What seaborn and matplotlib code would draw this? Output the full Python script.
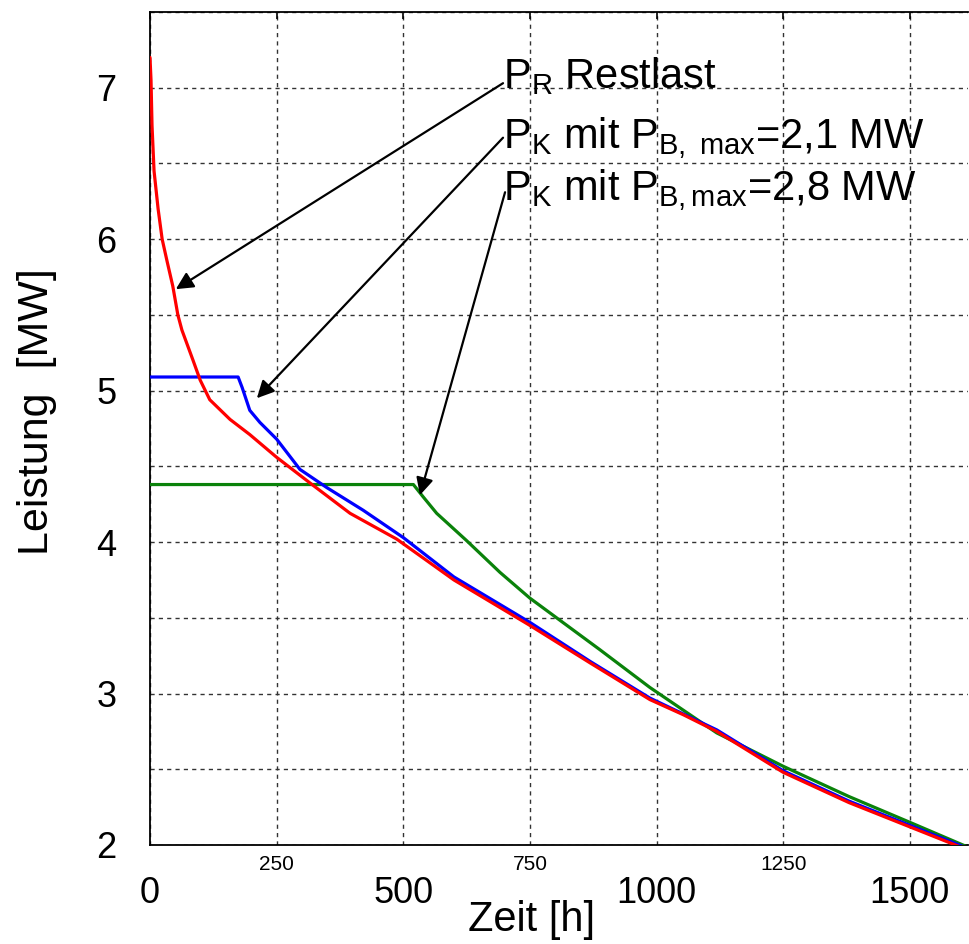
# Load duration curves: residual load vs. boiler power with storage

import numpy as np
import pandas as pd
import matplotlib
matplotlib.use("Agg")
import matplotlib.pyplot as plt
import seaborn as sns
from matplotlib.ticker import FixedLocator, NullFormatter

# Section 1 - Data

restlast_x = [0, 2, 4, 8, 16, 24, 34, 45, 55, 63, 85, 99, 118, 158, 197, 250,
              316, 395, 487, 600, 750, 870, 987, 1053, 1119, 1250, 1380, 1500, 1605]
restlast_y = [7.20, 7.05, 6.75, 6.45, 6.20, 6.00, 5.85, 5.69, 5.50, 5.40, 5.20, 5.07,
              4.94, 4.81, 4.71, 4.56, 4.39, 4.19, 4.02, 3.75, 3.45, 3.20, 2.96, 2.86,
              2.75, 2.48, 2.28, 2.12, 1.98]

pk21_x = [0, 174, 182, 197, 217, 250, 296, 349, 421, 500, 600, 750, 870, 987,
          1119, 1250, 1380, 1500, 1605]
pk21_y = [5.09, 5.09, 5.02, 4.87, 4.79, 4.68, 4.48, 4.36, 4.21, 4.03, 3.77, 3.47,
          3.21, 2.97, 2.76, 2.49, 2.29, 2.13, 1.99]

pk28_x = [0, 520, 539, 566, 625, 691, 750, 888, 987, 1119, 1250, 1380, 1500, 1612]
pk28_y = [4.38, 4.38, 4.30, 4.19, 4.01, 3.80, 3.63, 3.29, 3.04, 2.74, 2.52, 2.32,
          2.15, 1.99]

major_x = [0, 500, 1000, 1500]
minor_x = [250, 750, 1250]
major_y = [2, 3, 4, 5, 6, 7]
minor_y = [2.5, 3.5, 4.5, 5.5, 6.5, 7.5]

labels = [r"$\mathrm{P_R}$ Restlast",
          r"$\mathrm{P_K}$ mit $\mathrm{P_{B,\ max}}$=2,1 MW",
          r"$\mathrm{P_K}$ mit $\mathrm{P_{B,max}}$=2,8 MW"]
label_pos = [(697, 7.0), (697, 6.60), (697, 6.26)]
arrow_start = [(697, 7.03), (697, 6.67), (701, 6.31)]
arrow_tip = [(51, 5.67), (211, 4.95), (533, 4.31)]

# Section 2 - Style

sns.set_theme(style="white")
plt.rcParams["font.family"] = ["Liberation Sans", "DejaVu Sans"]
plt.rcParams["mathtext.fontset"] = "custom"
plt.rcParams["mathtext.rm"] = "Liberation Sans"
plt.rcParams["mathtext.it"] = "Liberation Sans:italic"
plt.rcParams["mathtext.bf"] = "Liberation Sans:bold"
plt.rcParams["text.color"] = "black"
plt.rcParams["axes.labelcolor"] = "black"
plt.rcParams["xtick.color"] = "black"
plt.rcParams["ytick.color"] = "black"

fig = plt.figure(figsize=(9.7, 9.44), dpi=100)
ax = fig.add_axes([150 / 970, 99 / 944, 818 / 970, 833 / 944])

# Section 3 - Curves

sns.lineplot(x=restlast_x, y=restlast_y, color="#ff0000", lw=2.3, ax=ax, zorder=5)
sns.lineplot(x=pk21_x, y=pk21_y, color="#0000ff", lw=2.3, ax=ax, zorder=4)
sns.lineplot(x=pk28_x, y=pk28_y, color="#0a820a", lw=2.3, ax=ax, zorder=3)

ax.set_xlim(0, 1615)
ax.set_ylim(2, 7.5)

# Section 4 - Axes, ticks, grid

ax.xaxis.set_major_locator(FixedLocator(major_x))
ax.xaxis.set_minor_locator(FixedLocator(minor_x))
ax.yaxis.set_major_locator(FixedLocator(major_y))
ax.yaxis.set_minor_locator(FixedLocator(minor_y))
ax.set_xticklabels([str(v) for v in major_x])
ax.set_xticklabels([str(v) for v in minor_x], minor=True)
ax.yaxis.set_minor_formatter(NullFormatter())

ax.tick_params(axis="x", which="major", direction="in", length=5, width=1.2,
               labelsize=26, pad=22, top=True, color="black", labelcolor="black")
ax.tick_params(axis="x", which="minor", direction="in", length=5, width=1.2,
               labelsize=15, pad=7, top=True, color="black", labelcolor="black")
ax.tick_params(axis="y", which="major", direction="in", length=5, width=1.2,
               labelsize=26, pad=24, right=False, color="black", labelcolor="black")
ax.tick_params(axis="y", which="minor", direction="inout", length=6, width=1.2,
               right=False, color="black")

ax.grid(which="both", linestyle=(0, (3, 3)), color="#333333", linewidth=1.0)

for side in ["left", "bottom", "top"]:
    ax.spines[side].set_color("black")
    ax.spines[side].set_linewidth(1.3)
ax.spines["right"].set_visible(False)

ax.set_xlabel("Zeit [h]", fontsize=30, color="black")
ax.set_ylabel("Leistung  [MW]", fontsize=31, color="black")
ax.xaxis.set_label_coords(0.466, -0.066)
ax.yaxis.set_label_coords(-0.114, 0.52)

# Section 5 - Annotations

for txt, pos in zip(labels, label_pos):
    ax.text(pos[0], pos[1], txt, fontsize=30, ha="left", va="baseline", color="black")

for start, tip in zip(arrow_start, arrow_tip):
    ax.annotate("", xy=tip, xytext=start,
                arrowprops=dict(arrowstyle="-|>", color="black", lw=1.6,
                                mutation_scale=26, shrinkA=0, shrinkB=0))

fig.savefig("out.png", dpi=100)
